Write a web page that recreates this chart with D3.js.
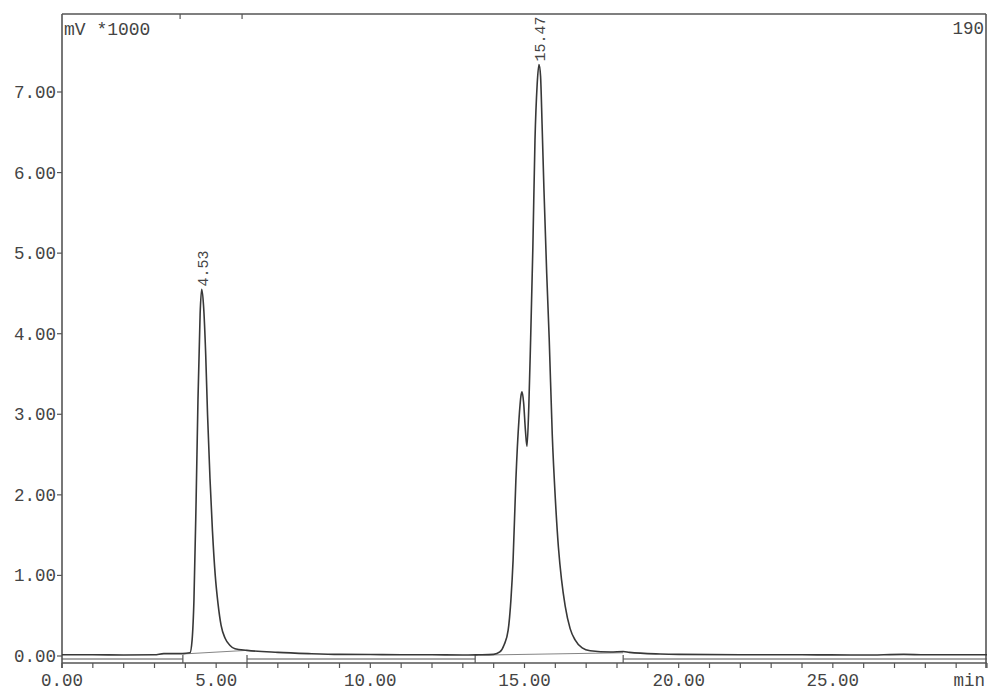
<!DOCTYPE html>
<html>
<head>
<meta charset="utf-8">
<script src="https://cdn.jsdelivr.net/npm/d3@7"></script>
<style>
  html, body { margin: 0; padding: 0; background: #fff; }
  svg { display: block; }
  text { font-family: "Liberation Mono", "DejaVu Sans Mono", monospace; fill: #444; }
</style>
</head>
<body>
<svg id="chart" width="1000" height="692"></svg>
<script>
// ---- data ----
const times = [0, 1, 2, 3, 3.3, 3.9, 4.15, 4.22, 4.28, 4.35, 4.41, 4.48, 4.53, 4.59, 4.66, 4.72, 4.8, 4.88, 4.97, 5.06, 5.16, 5.29, 5.45, 5.61, 6.0, 7.0, 8.0, 9.0, 10, 11, 12, 13, 13.5, 14.0, 14.2, 14.34, 14.47, 14.56, 14.63, 14.72, 14.82, 14.89, 14.92, 14.97, 15.03, 15.08, 15.14, 15.2, 15.27, 15.34, 15.41, 15.47, 15.52, 15.57, 15.63, 15.72, 15.8, 15.9, 16.0, 16.1, 16.2, 16.32, 16.48, 16.64, 16.87, 17.13, 17.8, 18.2, 18.4, 19.4, 20, 22, 24, 26, 27.3, 28, 30];
const signal = [0.015, 0.015, 0.012, 0.015, 0.03, 0.03, 0.04, 0.2, 0.7, 1.94, 3.18, 4.25, 4.55, 4.35, 3.75, 3.0, 2.2, 1.55, 1.0, 0.65, 0.38, 0.22, 0.13, 0.09, 0.07, 0.045, 0.03, 0.02, 0.018, 0.015, 0.015, 0.012, 0.015, 0.02, 0.05, 0.14, 0.32, 0.7, 1.19, 2.18, 2.93, 3.24, 3.28, 3.15, 2.8, 2.6, 3.1, 3.95, 5.05, 6.4, 7.09, 7.34, 7.2, 6.6, 5.8, 4.75, 3.95, 2.75, 1.95, 1.35, 0.95, 0.62, 0.34, 0.2, 0.1, 0.065, 0.05, 0.055, 0.045, 0.025, 0.02, 0.015, 0.015, 0.012, 0.02, 0.015, 0.015];

const peakTimes = [4.53, 15.47];
const peakHeights = [4.55, 7.34];
const peakLabels = ["4.53", "15.47"];

const integStart = [3.92, 13.4];
const integEnd = [6.0, 18.2];
const integStartVal = [0.025, 0.01];
const integEndVal = [0.07, 0.04];

const eventTimes = [3.83, 5.84];

const yTicks = [0, 1, 2, 3, 4, 5, 6, 7];
const yTickLabels = ["0.00", "1.00", "2.00", "3.00", "4.00", "5.00", "6.00", "7.00"];
const xMajor = [0, 5, 10, 15, 20, 25];
const xMajorLabels = ["0.00", "5.00", "10.00", "15.00", "20.00", "25.00"];
const xMinor = d3.range(0, 31, 1);
const yUnitLabel = "mV *1000";
const channelLabel = "190";
const xUnitLabel = "min";

// ---- layout ----
const svg = d3.select("#chart");
const L = 62, R = 987, T = 14;
const x = d3.scaleLinear().domain([0, 30]).range([L, R]);
const y = d3.scaleLinear().domain([0, 7]).range([656, 92]);
const ink = "#383838";
const frameBottom = 659, axisY = 663;
const fs = 17.5;

// frame
svg.append("line").attr("x1", L).attr("x2", L).attr("y1", T).attr("y2", 668).attr("stroke", "#555").attr("stroke-width", 1.6);
svg.append("line").attr("x1", L).attr("x2", R - 1).attr("y1", T).attr("y2", T).attr("stroke", "#555").attr("stroke-width", 1.6);
svg.append("line").attr("x1", R - 1).attr("x2", R - 1).attr("y1", T).attr("y2", 668).attr("stroke", "#555").attr("stroke-width", 1.6);

// bottom double line (with gaps at integration brackets)
let segs = [];
let prev = 0;
integStart.forEach((s, i) => { segs.push([prev, s]); prev = integEnd[i]; });
segs.push([prev, 30]);
svg.selectAll(".fb").data(segs).join("line")
  .attr("x1", d => x(d[0])).attr("x2", d => x(d[1]))
  .attr("y1", frameBottom).attr("y2", frameBottom)
  .attr("stroke", "#555").attr("stroke-width", 1.2);
svg.append("line").attr("x1", L).attr("x2", R).attr("y1", axisY).attr("y2", axisY).attr("stroke", "#555").attr("stroke-width", 1.4);

// integration brackets
integStart.forEach((s, i) => {
  [s, integEnd[i]].forEach(t => {
    svg.append("line").attr("x1", x(t)).attr("x2", x(t)).attr("y1", 655).attr("y2", axisY)
      .attr("stroke", "#555").attr("stroke-width", 1.2);
  });
  svg.append("line")
    .attr("x1", x(s)).attr("y1", y(integStartVal[i]))
    .attr("x2", x(integEnd[i])).attr("y2", y(integEndVal[i]))
    .attr("stroke", "#777").attr("stroke-width", 0.9);
});

// x ticks
svg.selectAll(".xt").data(xMinor).join("line")
  .attr("x1", d => x(d)).attr("x2", d => x(d))
  .attr("y1", axisY).attr("y2", axisY + 5)
  .attr("stroke", "#555").attr("stroke-width", 1.2);
svg.selectAll(".xl").data(xMajor).join("text")
  .attr("x", d => x(d)).attr("y", 686)
  .attr("text-anchor", "middle").attr("font-size", fs)
  .text((d, i) => xMajorLabels[i]);
svg.append("text").attr("x", R - 2).attr("y", 686).attr("text-anchor", "end").attr("font-size", fs).text(xUnitLabel);

// top event ticks
svg.selectAll(".et").data(eventTimes).join("line")
  .attr("x1", d => x(d)).attr("x2", d => x(d))
  .attr("y1", T).attr("y2", T + 5)
  .attr("stroke", "#555").attr("stroke-width", 1.2);

// y ticks
svg.selectAll(".yt").data(yTicks).join("line")
  .attr("x1", L - 5).attr("x2", L)
  .attr("y1", d => y(d)).attr("y2", d => y(d))
  .attr("stroke", "#555").attr("stroke-width", 1.2);
svg.selectAll(".yl").data(yTicks).join("text")
  .attr("x", L - 6).attr("y", d => y(d) + 6)
  .attr("text-anchor", "end").attr("font-size", fs)
  .text((d, i) => yTickLabels[i]);

// corner labels
svg.append("text").attr("x", 64).attr("y", 35).attr("font-size", 18).text(yUnitLabel);
svg.append("text").attr("x", R - 3).attr("y", 34).attr("text-anchor", "end").attr("font-size", fs).text(channelLabel);

// trace
const pts = times.map((t, i) => [t, signal[i]]);
const line = d3.line().x(d => x(d[0])).y(d => y(d[1])).curve(d3.curveMonotoneX);
svg.append("path").datum(pts).attr("d", line)
  .attr("fill", "none").attr("stroke", ink).attr("stroke-width", 1.6)
  .attr("stroke-linejoin", "round");

// peak labels (rotated)
peakTimes.forEach((t, i) => {
  const px = x(t) + 6, py = y(peakHeights[i]) - 3;
  svg.append("text")
    .attr("transform", `translate(${px},${py}) rotate(-90)`)
    .attr("font-size", 15)
    .attr("text-anchor", "start")
    .text(peakLabels[i]);
});
</script>
</body>
</html>
